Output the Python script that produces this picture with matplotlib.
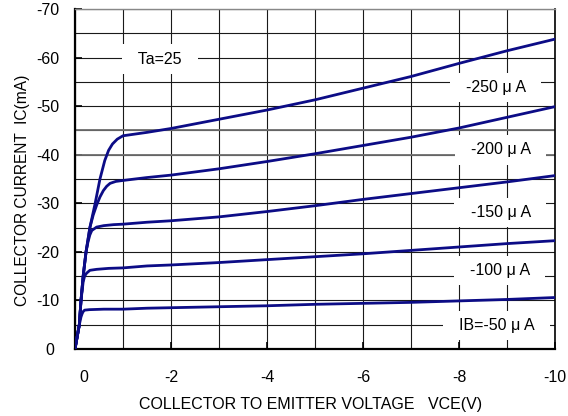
import matplotlib
matplotlib.use('Agg')
import matplotlib.pyplot as plt
import matplotlib.transforms as mtransforms

plt.rcParams['font.family'] = ['Liberation Sans', 'DejaVu Sans']
plt.rcParams['axes.unicode_minus'] = False  # plain hyphens like the datasheet

# Ic - Vce curves (V, mA), sign as printed
vce_250 = [0, -0.09, -0.125, -0.17, -0.23, -0.31, -0.42, -0.52, -0.62, -0.7, -0.78, -0.88, -1.0,
           -1.5, -2, -3, -4, -5, -6, -7, -8, -9, -10]
ic_250 = [0, -5, -10, -15, -20, -25, -30, -35, -38.8, -40.9, -42.2, -43.2, -43.9,
          -44.6, -45.4, -47.3, -49.2, -51.3, -53.7, -56.1, -58.8, -61.4, -63.8]

vce_200 = [0, -0.09, -0.125, -0.17, -0.23, -0.31, -0.38, -0.45, -0.52, -0.59, -0.66, -0.73,
           -0.85, -1.0, -1.5, -2, -3, -4, -5, -6, -7, -8, -9, -10]
ic_200 = [0, -5, -10, -15, -20, -25, -27.6, -29.6, -31.3, -32.6, -33.5, -34.1,
          -34.5, -34.7, -35.3, -35.8, -37.1, -38.6, -40.2, -41.9, -43.6, -45.5, -47.7, -49.9]

vce_150 = [0, -0.09, -0.125, -0.17, -0.23, -0.27, -0.31, -0.35, -0.45, -0.6, -0.8, -1.0,
           -1.5, -2, -3, -4, -5, -6, -7, -8, -9, -10]
ic_150 = [0, -5, -10, -15, -20, -22, -23.5, -24.4, -25.1, -25.4, -25.6, -25.7,
          -26.1, -26.4, -27.2, -28.3, -29.5, -30.8, -32.0, -33.2, -34.4, -35.7]

vce_100 = [0, -0.09, -0.125, -0.17, -0.2, -0.24, -0.31, -0.45, -0.7, -1.0,
           -1.5, -2, -3, -4, -5, -6, -7, -8, -9, -10]
ic_100 = [0, -5, -10, -13.8, -15.0, -15.6, -16.2, -16.4, -16.6, -16.7,
          -17.1, -17.3, -17.8, -18.4, -19.0, -19.6, -20.3, -21.0, -21.7, -22.3]

vce_50 = [0, -0.09, -0.125, -0.15, -0.17, -0.2, -0.3, -0.6, -1.0,
          -1.5, -2, -3, -4, -5, -6, -7, -8, -9, -10]
ic_50 = [0, -5, -6.6, -7.3, -7.7, -8.0, -8.1, -8.2, -8.2,
         -8.4, -8.5, -8.7, -8.9, -9.2, -9.4, -9.6, -9.9, -10.2, -10.6]

curves = [(vce_250, ic_250), (vce_200, ic_200), (vce_150, ic_150),
          (vce_100, ic_100), (vce_50, ic_50)]

# curve labels and where they sit (V, mA)
labels = ['-250 μ A', '-200 μ A', '-150 μ A', '-100 μ A', 'IB=-50 μ A']
label_x = [-8.76, -8.86, -8.86, -8.84, -8.78]
label_y = [-53.8, -41.0, -28.1, -16.2, -4.8]

x_ticks = [0, -2, -4, -6, -8, -10]
y_ticks = [0, -10, -20, -30, -40, -50, -60, -70]
gray_rows = [-40, -45]  # these two grid rows print grey/thicker in the scan

fig = plt.figure(figsize=(5.68, 4.16), dpi=100)
ax = fig.add_axes([75 / 568, 67 / 416, 480 / 568, 340 / 416])

for v, i in curves:
    ax.plot(v, i, color='#0c0c86', lw=2.0, zorder=4, solid_joinstyle='round')

ax.set_xlim(0, -10)
ax.set_ylim(0, -70)
ax.set_xticks(x_ticks)
ax.set_yticks(y_ticks)
ax.set_xticks([-1, -3, -5, -7, -9], minor=True)
ax.set_yticks([-5, -15, -25, -35, -45, -55, -65], minor=True)
ax.grid(True, which='both', color='#1a1a1a', lw=0.8, zorder=1)
ax.set_axisbelow(True)
for g in gray_rows:
    ax.axhline(g, color='#6e6e6e', lw=1.3, zorder=1.5)

ax.tick_params(which='major', direction='in', length=5, width=1.2, labelsize=11.5, color='black')
ax.tick_params(which='minor', length=0)
ax.tick_params(axis='x', pad=15)
ax.tick_params(axis='y', pad=11)

# the "0" labels are nudged in the original: x one to the right, y one to the left
fig.canvas.draw()
lx = ax.get_xticklabels()[0]
lx.set_transform(lx.get_transform() + mtransforms.ScaledTranslation(9 / 100, 0, fig.dpi_scale_trans))
ly = ax.get_yticklabels()[0]
ly.set_transform(ly.get_transform() + mtransforms.ScaledTranslation(-5 / 100, 0, fig.dpi_scale_trans))

for s in ['left', 'bottom']:
    ax.spines[s].set_linewidth(1.6)
ax.spines['right'].set_linewidth(1.2)
ax.spines['top'].set_color('#888888')
ax.spines['top'].set_linewidth(1.0)

ax.set_xlabel('COLLECTOR TO EMITTER VOLTAGE   VCE(V)', fontsize=11.5)
ax.set_ylabel('COLLECTOR CURRENT  IC(mA)', fontsize=11.2)
ax.xaxis.set_label_coords(0.49, -0.14)
ax.yaxis.set_label_coords(-0.094, 0.468)

box = dict(boxstyle='square,pad=0.45', facecolor='white', edgecolor='none')
ax.text(-1.77, -59.7, '  Ta=25  ', fontsize=11.5, ha='center', va='center', bbox=box, zorder=3)
for t, x, y in zip(labels, label_x, label_y):
    ax.text(x, y, '  ' + t + '  ', fontsize=11.5, ha='center', va='center', bbox=box, zorder=3)

fig.savefig('out.png', dpi=100)
